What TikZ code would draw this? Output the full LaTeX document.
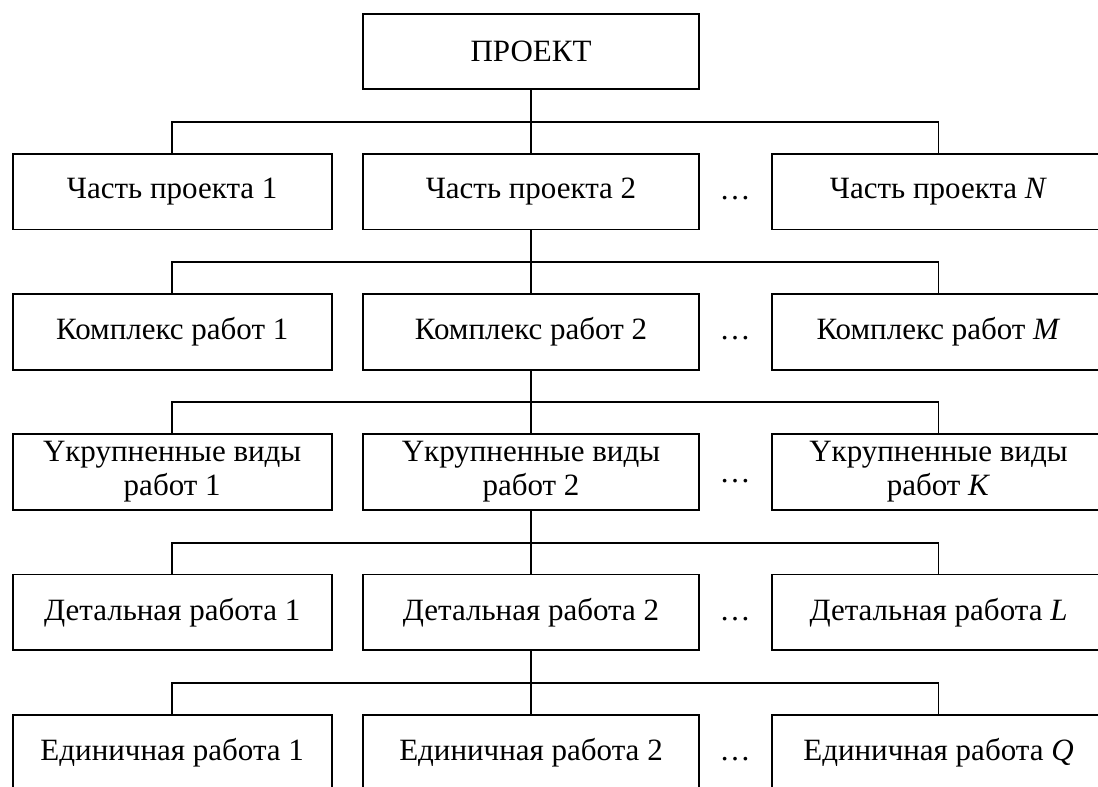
\documentclass[tikz,border=0pt]{standalone}
\usepackage{fontspec}
\setmainfont{Liberation Serif}
\begin{document}
\begin{tikzpicture}[x=1pt,y=-1pt,
  txt/.style={font=\fontsize{31}{34}\selectfont},
  box/.style={txt,draw,line width=1.8pt,minimum height=75.5pt,inner sep=0pt,align=center},
  boxa/.style={box,minimum width=319pt},
  boxb/.style={box,minimum width=336pt},
  boxc/.style={box,minimum width=333pt},
  dots/.style={txt,inner sep=0pt},
  conn/.style={line width=1.8pt}]
\useasboundingbox (0,0) rectangle (1098,787);
\clip (0,0) rectangle (1098,787);
% top
\node[boxb] (p) at (531,51.5) {ПРОЕКТ};
% row 1
\node[boxa] (a1) at (172.2,191.7) {Часть проекта 1};
\node[boxb] (a2) at (531,191.7) {Часть проекта 2};
\node[boxc] (a3) at (938.5,191.7) {Часть проекта \textit{N}};
\node[dots] (da) at (735,198.3) {…};
% row 2
\node[boxa] (b1) at (172.2,331.9) {Комплекс работ 1};
\node[boxb] (b2) at (531,331.9) {Комплекс работ 2};
\node[boxc] (b3) at (938.5,331.9) {Комплекс работ \textit{M}};
\node[dots] (db) at (735,338.5) {…};
% row 3
\node[boxa] (c1) at (172.2,472.1) {Үкрупненные виды\\работ 1};
\node[boxb] (c2) at (531,472.1) {Үкрупненные виды\\работ 2};
\node[boxc] (c3) at (938.5,472.1) {Үкрупненные виды\\работ \textit{K}};
\node[dots] (dc) at (735,481) {…};
% row 4
\node[boxa] (e1) at (172.2,612.3) {Детальная работа 1};
\node[boxb] (e2) at (531,612.3) {Детальная работа 2};
\node[boxc] (e3) at (938.5,612.3) {Детальная работа \textit{L}};
\node[dots] (de) at (735,618.9) {…};
% row 5
\node[boxa] (f1) at (172.2,752.5) {Единичная работа 1};
\node[boxb] (f2) at (531,752.5) {Единичная работа 2};
\node[boxc] (f3) at (938.5,752.5) {Единичная работа \textit{Q}};
\node[dots] (df) at (735,759.1) {…};
% bars
\coordinate (j0) at (531,121.7);
\coordinate (j1) at (531,261.7);
\coordinate (j2) at (531,402.3);
\coordinate (j3) at (531,542.7);
\coordinate (j4) at (531,682.7);
\draw[conn] (p.south) -- (j0) -- (a2.north);
\draw[conn] (a1.north) |- (j0) -| (a3.north);
\draw[conn] (a2.south) -- (j1) -- (b2.north);
\draw[conn] (b1.north) |- (j1) -| (b3.north);
\draw[conn] (b2.south) -- (j2) -- (c2.north);
\draw[conn] (c1.north) |- (j2) -| (c3.north);
\draw[conn] (c2.south) -- (j3) -- (e2.north);
\draw[conn] (e1.north) |- (j3) -| (e3.north);
\draw[conn] (e2.south) -- (j4) -- (f2.north);
\draw[conn] (f1.north) |- (j4) -| (f3.north);
\end{tikzpicture}
\end{document}
